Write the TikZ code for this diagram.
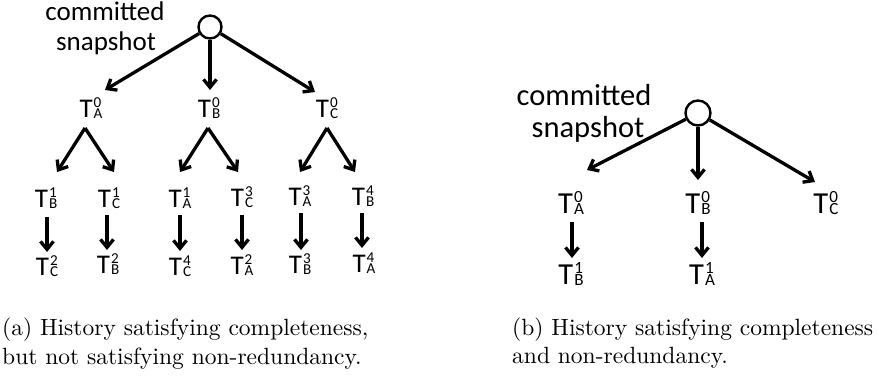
\documentclass[tikz,border=0pt]{standalone}
\usepackage{fontspec}
\usepackage{graphicx}
\usetikzlibrary{arrows.meta}
\newfontfamily\cfont{Carlito}
\newcommand{\tx}[2]{T\kern0.04em\rlap{\raisebox{0.35em}{\scalebox{0.56}{#1}}}\raisebox{-0.05em}{\scalebox{0.56}{#2}}}
\newcommand{\captext}[1]{\scalebox{2.35}{\fontsize{10}{12}\selectfont #1}}
\begin{document}
\begin{tikzpicture}[x=1pt,y=-1pt,
  arr/.style={line width=3.3pt, -{Straight Barb[length=8pt,width=13pt]}},
  lab/.style={font=\cfont\fontsize{27}{30}\selectfont, inner sep=0pt, anchor=base},
  labR/.style={font=\cfont\fontsize{30.5}{33}\selectfont, inner sep=0pt, anchor=base},
  snap/.style={circle, draw, line width=2.4pt, minimum size=23pt, inner sep=0pt},
  captxt/.style={inner sep=0pt, anchor=base west}]
\useasboundingbox (0,0) rectangle (879,383);

% ---------- left tree ----------
\node[snap] (cL) at (210,27) {};
\node[lab] (cmL) at (105,20) {committed};
\node[lab] (snL) at (106,50) {snapshot};

\node[lab] (LA0) at (91,117) {\tx{0}{A}};
\node[lab] (LB0) at (209,117) {\tx{0}{B}};
\node[lab] (LC0) at (327,117) {\tx{0}{C}};

\coordinate (tLA) at (105,90);
\coordinate (tLB) at (210,90);
\coordinate (tLC) at (315,92);
\draw[arr] (cL) -- (tLA);
\draw[arr] (cL) -- (tLB);
\draw[arr] (cL) -- (tLC);

\node[lab] (L1) at (46,207) {\tx{1}{B}};
\node[lab] (L2) at (109,207) {\tx{1}{C}};
\node[lab] (L3) at (180,207) {\tx{1}{A}};
\node[lab] (L4) at (242,206) {\tx{3}{C}};
\node[lab] (L5) at (300,205) {\tx{3}{A}};
\node[lab] (L6) at (363,205) {\tx{4}{B}};

\coordinate (pA) at (85,128);
\coordinate (pB) at (208,128);
\coordinate (pC) at (327,128);
\coordinate (t1) at (57,172);
\coordinate (t2) at (114,172);
\coordinate (t3) at (180,172);
\coordinate (t4) at (238,172);
\coordinate (t5) at (300,172);
\coordinate (t6) at (355,172);
\draw[arr] (pA) -- (t1);
\draw[arr] (pA) -- (t2);
\draw[arr] (pB) -- (t3);
\draw[arr] (pB) -- (t4);
\draw[arr] (pC) -- (t5);
\draw[arr] (pC) -- (t6);

\node[lab] (M1) at (47,275) {\tx{2}{C}};
\node[lab] (M2) at (108,273) {\tx{2}{B}};
\node[lab] (M3) at (180,275) {\tx{4}{C}};
\node[lab] (M4) at (242,274) {\tx{2}{A}};
\node[lab] (M5) at (300,273) {\tx{3}{B}};
\node[lab] (M6) at (364,272) {\tx{4}{A}};

\coordinate (s1) at (47,217);  \coordinate (e1) at (47,252);
\coordinate (s2) at (107,215); \coordinate (e2) at (107,250);
\coordinate (s3) at (180,215); \coordinate (e3) at (180,251);
\coordinate (s4) at (242,215); \coordinate (e4) at (242,250);
\coordinate (s5) at (301,213); \coordinate (e5) at (301,250);
\coordinate (s6) at (362,213); \coordinate (e6) at (362,248);
\foreach \i in {1,...,6} \draw[arr] (s\i) -- (e\i);

% ---------- right tree ----------
\node[snap, minimum size=25pt] (cR) at (698,113) {};
\node[labR] (cmR) at (584,105) {committed};
\node[labR] (snR) at (588,137) {snapshot};

\node[labR] (RA0) at (571,213) {\tx{0}{A}};
\node[labR] (RB0) at (698,213) {\tx{0}{B}};
\node[labR] (RC0) at (826,213) {\tx{0}{C}};

\coordinate (tRA) at (587,170);
\coordinate (tRB) at (698,180);
\coordinate (tRC) at (815,182);
\draw[arr] (cR) -- (tRA);
\draw[arr] (cR) -- (tRB);
\draw[arr] (cR) -- (tRC);

\coordinate (rs1) at (572,222); \coordinate (re1) at (572,258);
\coordinate (rs2) at (702,222); \coordinate (re2) at (702,258);
\draw[arr] (rs1) -- (re1);
\draw[arr] (rs2) -- (re2);

\node[labR] (RB1) at (571,284) {\tx{1}{B}};
\node[labR] (RA1) at (702,284) {\tx{1}{A}};

% ---------- captions ----------
\node[captxt] (capa1) at (2,335) {\captext{(a) History satisfying completeness,}};
\node[captxt] (capa2) at (2,364) {\captext{but not satisfying non-redundancy.}};
\node[captxt] (capb1) at (512,335) {\captext{(b) History satisfying completeness}};
\node[captxt] (capb2) at (512,363) {\captext{and non-redundancy.}};
\end{tikzpicture}
\end{document}
